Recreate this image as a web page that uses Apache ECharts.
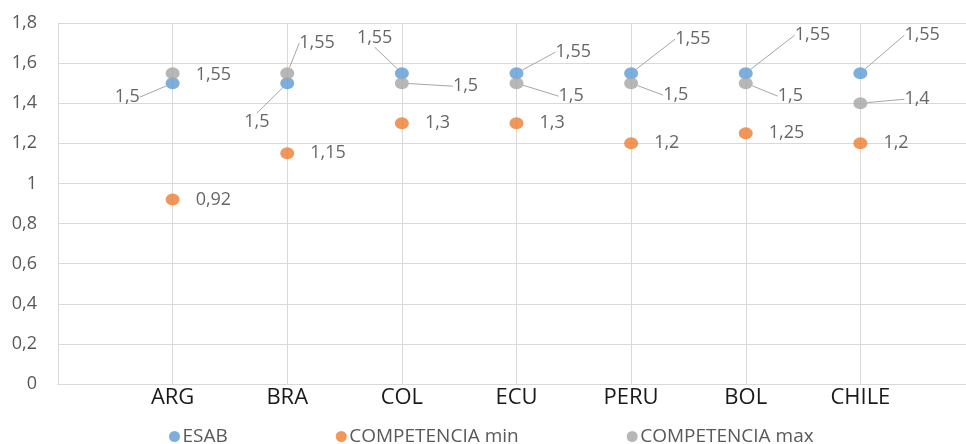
<!DOCTYPE html>
<html>
<head>
<meta charset="utf-8">
<script src="https://cdn.jsdelivr.net/npm/echarts@6/dist/echarts.min.js"></script>
<style>
  html, body { margin: 0; padding: 0; background: #fff; overflow: hidden; }
  #chart { width: 966px; height: 444px; }
</style>
</head>
<body>
<div id="chart"></div>
<script>
// Countries on the horizontal axis
const countries = ['ARG', 'BRA', 'COL', 'ECU', 'PERU', 'BOL', 'CHILE'];
const esab = [1.5, 1.5, 1.55, 1.55, 1.55, 1.55, 1.55];
const compMin = [0.92, 1.15, 1.3, 1.3, 1.2, 1.25, 1.2];
const compMax = [1.55, 1.55, 1.5, 1.5, 1.5, 1.5, 1.4];
const yTicks = [0, 0.2, 0.4, 0.6, 0.8, 1, 1.2, 1.4, 1.6, 1.8];

const seriesNames = ['ESAB', 'COMPETENCIA min', 'COMPETENCIA max'];
const colors = ['#5B9BD5', '#ED7D31', '#A5A5A5'];

// Hand-placed data labels: pixel offsets from the default right-hand spot
const labelShift = {
  ESAB: [[-81, 14], [-66, 39], [-68, -35], [16, -21], [21, -34], [26, -38], [21, -38]],
  'COMPETENCIA min': [[0, 0], [0, 0], [0, 0], [0, 0], [0, 0], [0, 0], [0, 0]],
  'COMPETENCIA max': [[0, 2], [-11, -30], [28, 3], [19, 13], [9, 12], [9, 13], [21, -4]]
};

// blank slots pad the axis on both sides
const axisCats = [''].concat(countries, [' ']);
const fmt = v => String(+Number(v).toFixed(2)).replace('.', ',');
const FONT = '"Open Sans", "Noto Sans", sans-serif';

function makeSeries(name, values, color) {
  return {
    name: name,
    type: 'scatter',
    symbol: 'circle',
    symbolSize: [14, 12],
    itemStyle: { color: color },
    data: values.map((v, i) => {
      const s = labelShift[name][i];
      const moved = s[0] !== 0 || Math.abs(s[1]) > 3;
      return { value: [countries[i], v], labelLine: { show: moved } };
    }),
    label: {
      show: true,
      position: 'right',
      distance: 16,
      color: '#404040',
      fontFamily: FONT,
      fontSize: 18,
      formatter: p => fmt(p.value[1])
    },
    labelLine: {
      show: true,
      lineStyle: { color: '#A6A6A6', width: 1 }
    },
    labelLayout: p => {
      const s = labelShift[name][p.dataIndex];
      return { dx: s[0], dy: s[1] };
    },
    emphasis: { disabled: true }
  };
}

const chart = echarts.init(document.getElementById('chart'), null, { renderer: 'canvas' });
chart.setOption({
  animation: false,
  backgroundColor: '#ffffff',
  color: colors,
  grid: { left: 58, right: -9, top: 23, bottom: 60, containLabel: false, outerBoundsMode: 'none' },
  legend: {
    data: seriesNames,
    left: 164,
    top: 422,
    icon: 'circle',
    itemWidth: 12,
    itemHeight: 11,
    itemGap: 108,
    textStyle: { color: '#595959', fontFamily: FONT, fontSize: 19, padding: [0, 0, 0, -3] }
  },
  xAxis: {
    type: 'category',
    data: axisCats,
    boundaryGap: false,
    axisLine: { show: true, lineStyle: { color: '#D9D9D9', width: 1 } },
    axisTick: { show: false },
    axisLabel: { color: '#1a1a1a', fontFamily: FONT, fontSize: 22, margin: 3, interval: 0 },
    splitLine: { show: true, lineStyle: { color: '#D9D9D9', width: 1 } }
  },
  yAxis: {
    type: 'value',
    min: yTicks[0],
    max: yTicks[yTicks.length - 1],
    interval: 0.2,
    axisLine: { show: false },
    axisTick: { show: false },
    axisLabel: {
      color: '#595959', fontFamily: FONT, fontSize: 18, margin: 21,
      formatter: v => fmt(v)
    },
    splitLine: { show: true, lineStyle: { color: '#D9D9D9', width: 1 } }
  },
  series: [
    makeSeries(seriesNames[0], esab, colors[0]),
    makeSeries(seriesNames[1], compMin, colors[1]),
    makeSeries(seriesNames[2], compMax, colors[2])
  ]
});
</script>
</body>
</html>
